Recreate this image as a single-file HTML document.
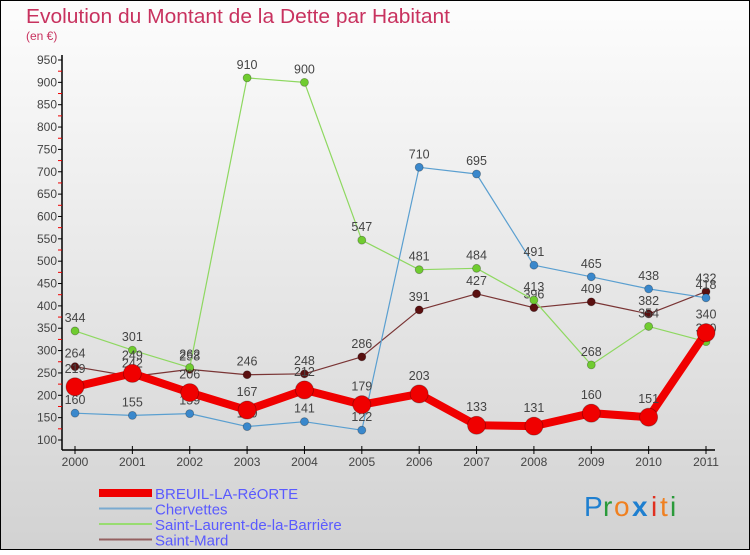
<!DOCTYPE html>
<html><head><meta charset="utf-8"><style>
html,body{margin:0;padding:0}
body{width:750px;height:550px;overflow:hidden;font-family:"Liberation Sans",sans-serif}
svg text{font-family:"Liberation Sans",sans-serif}
</style></head><body>
<svg id="chart" width="750" height="550" xmlns="http://www.w3.org/2000/svg">
<defs><linearGradient id="bg" x1="0" y1="0" x2="0" y2="1"><stop offset="0" stop-color="#fdfdfd"/><stop offset="1" stop-color="#d2d2d2"/></linearGradient></defs>
<rect x="0" y="0" width="750" height="550" fill="url(#bg)" stroke="#000" stroke-width="2"/>
<text x="26" y="23" font-size="20" fill="#c8325f" textLength="424" lengthAdjust="spacingAndGlyphs">Evolution du Montant de la Dette par Habitant</text>
<text x="26" y="40" font-size="12" fill="#c8325f">(en €)</text>
<g id="axes"></g><g id="series"></g><g id="legend"></g>
<g font-size="28">
<text x="584" y="516" fill="#1e7fd0">P</text><text x="603" y="516" fill="#2a9a3a">r</text><text x="614" y="516" fill="#f08020">o</text><text x="632" y="516" fill="#1e7fd0" font-weight="bold">x</text><text x="651" y="516" fill="#e03020">i</text><text x="660" y="516" fill="#f08020">t</text><text x="670" y="516" fill="#2a9a3a">i</text>
</g>
</svg>
<script>
const years=["2000","2001","2002","2003","2004","2005","2006","2007","2008","2009","2010","2011"];
const breuil=[219,249,206,167,212,179,203,133,131,160,151,340];
const chervettes=[160,155,159,130,141,122,710,695,491,465,438,418];
const saintLaurent=[344,301,262,910,900,547,481,484,413,268,354,320];
const saintMard=[264,242,258,246,248,286,391,427,396,409,382,432];
const yTicks=[100,150,200,250,300,350,400,450,500,550,600,650,700,750,800,850,900,950];
const NS="http://www.w3.org/2000/svg";
const X=i=>75+i*(706-75)/11;
const Y=v=>440-(v-100)*(380/850);
function mk(tag,attrs,parent,txt){const e=document.createElementNS(NS,tag);for(const k in attrs)e.setAttribute(k,attrs[k]);if(txt!==undefined)e.textContent=txt;parent.appendChild(e);return e;}
const ax=document.getElementById('axes');
let l=mk('line',{x1:62,y1:55,x2:62,y2:450,stroke:'#000','stroke-width':1.5},ax);


l=mk('line',{x1:62,y1:450,x2:715,y2:450,stroke:'#000','stroke-width':1.5},ax);


yTicks.forEach((t,i)=>{
  const y=Y(t);
  mk('line',{x1:58,y1:y,x2:62,y2:y,stroke:'#000'},ax);
  if(i<yTicks.length-1)mk('line',{x1:58,y1:Y(t+25),x2:62,y2:Y(t+25),stroke:'#e00'},ax);
  const tx=mk('text',{x:57,y:y+4,'font-size':12,'text-anchor':'end',fill:'#444'},ax,t);
  
  
});
years.forEach((yr,i)=>{
  mk('line',{x1:X(i),y1:446,x2:X(i),y2:454,stroke:'#000'},ax);
  const tx=mk('text',{x:X(i),y:466,'font-size':12,'text-anchor':'middle',fill:'#444'},ax,yr);
  
  
});
const sg=document.getElementById('series');
const defs=[
 {name:'saint-mard',data:saintMard,color:'#7a3535',pt:'#5a1010',w:1.2,r:4},
 {name:'saint-laurent',data:saintLaurent,color:'#8ed860',pt:'#70cc30',w:1.2,r:4},
 {name:'chervettes',data:chervettes,color:'#5a9fd0',pt:'#3a88cc',w:1.2,r:4},
 {name:'breuil',data:breuil,color:'#f00000',pt:'#f00000',w:8,r:9}
];
defs.forEach(s=>{
  const g=mk('g',{},sg);
  
  
  const p=mk('polyline',{points:s.data.map((v,i)=>X(i)+','+Y(v)).join(' '),fill:'none',stroke:s.color,'stroke-width':s.w,'stroke-linejoin':'round'},g);
  
  
  s.data.forEach((v,i)=>{
    const c=mk('circle',{cx:X(i),cy:Y(v),r:s.r,fill:s.pt,stroke:'rgba(0,0,0,0.3)','stroke-width':0.8},g);
    
    
    const t=mk('text',{x:X(i),y:Y(v)-(s.r+5),'font-size':12.5,'text-anchor':'middle',fill:'#444'},g,v);
    
    
  });
});
const lg=document.getElementById('legend');
const items=[['BREUIL-LA-RéORTE','#f00000',8],['Chervettes','#7aaad0',2],['Saint-Laurent-de-la-Barrière','#98dc70',2],['Saint-Mard','#946060',2]];
items.forEach((it,i)=>{
  const y=493+i*15.5;
  const g=mk('g',{},lg);
  
  
  mk('line',{x1:99,y1:y,x2:152,y2:y,stroke:it[1],'stroke-width':it[2]},g);
  mk('text',{x:155,y:y+6,'font-size':15,fill:'#5a5aff'},g,it[0]);
});
</script>
</body></html>
